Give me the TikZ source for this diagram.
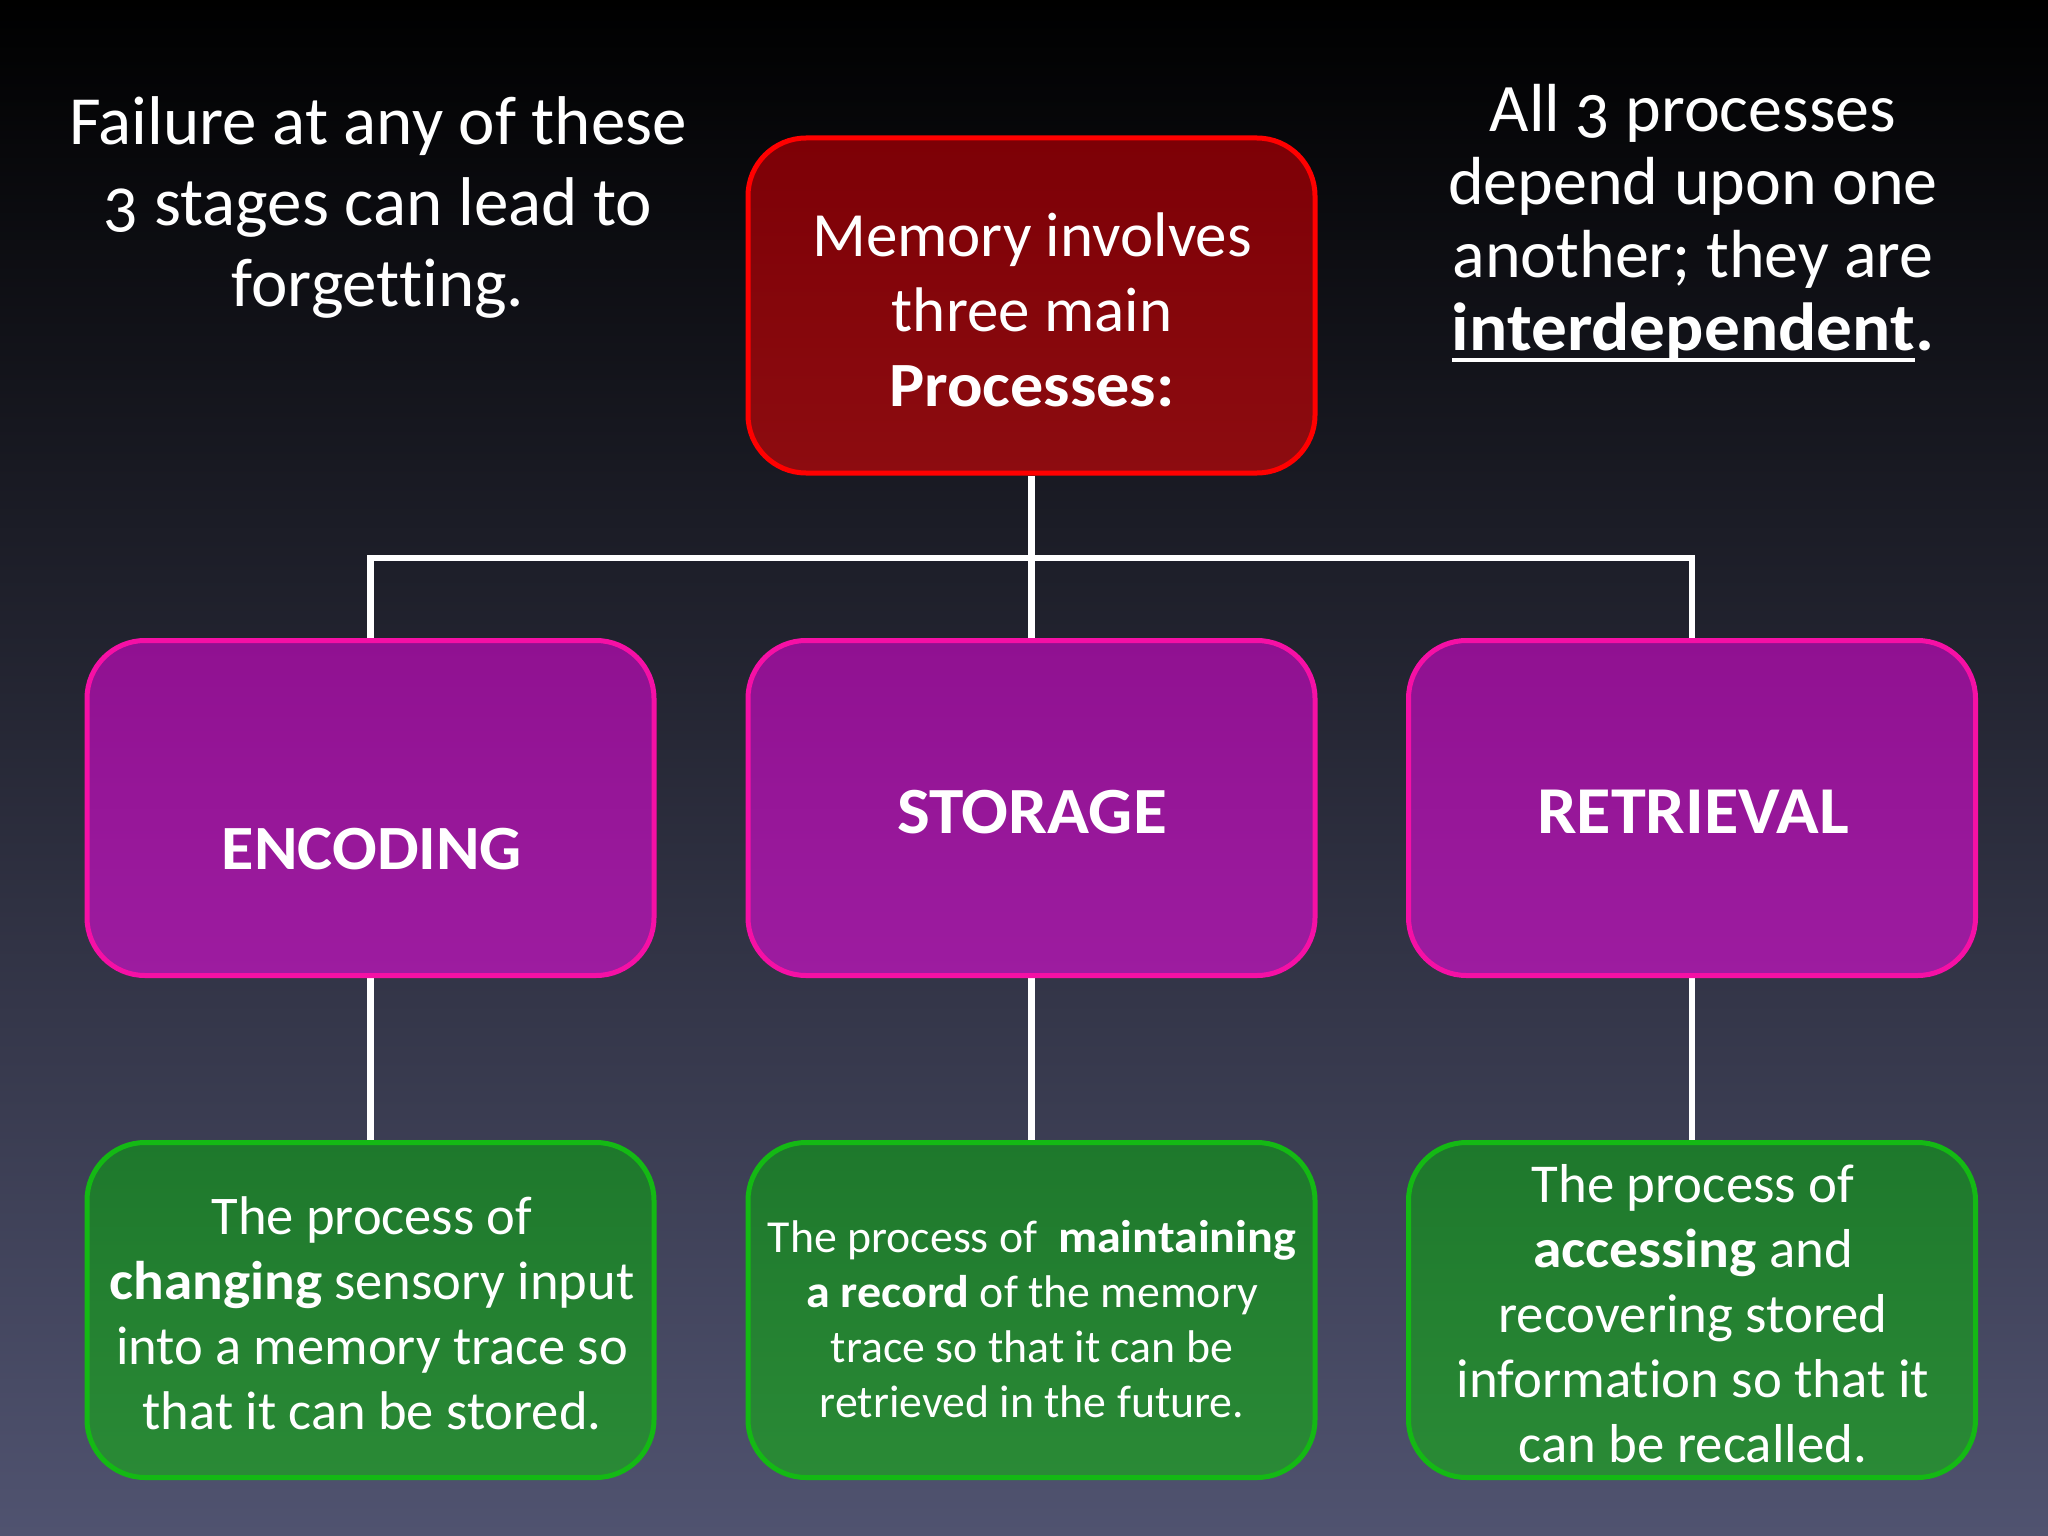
\documentclass[tikz,border=0pt]{standalone}
\usepackage{fontspec}
\setmainfont{Carlito}[Numbers=OldStyle, RawFeature={-liga;-clig;-calt;-dlig}, BoldFeatures={FakeStretch=1.05}]
\usetikzlibrary{backgrounds}
\definecolor{bgbot}{RGB}{80,83,112}
\definecolor{redtop}{RGB}{125,0,6}
\definecolor{redbot}{RGB}{141,12,16}
\definecolor{redline}{RGB}{255,0,0}
\definecolor{purtop}{RGB}{144,17,145}
\definecolor{purbot}{RGB}{157,28,160}
\definecolor{purline}{RGB}{245,16,165}
\definecolor{grntop}{RGB}{30,120,44}
\definecolor{grnbot}{RGB}{42,138,54}
\definecolor{grnline}{RGB}{20,185,20}
\newcommand\myuline[1]{\setbox0\hbox{#1}\rlap{\vrule width\wd0 height -7pt depth 11pt}\box0}
\tikzset{
  boxbase/.style={line width=5pt, rounded corners=58pt, minimum width=567pt, minimum height=335pt, inner sep=0pt},
  redbox/.style={boxbase, draw=redline, top color=redtop, bottom color=redbot},
  purbox/.style={boxbase, draw=purline, top color=purtop, bottom color=purbot},
  grnbox/.style={boxbase, draw=grnline, top color=grntop, bottom color=grnbot},
  txt/.style={text=white, align=center, inner sep=0pt},
  conn/.style={draw=white, line width=6.5pt}
}
\begin{document}
\begin{tikzpicture}[x=1pt,y=-1pt]
\useasboundingbox (0,0) rectangle (2048,1536);
% boxes
\node[redbox] (mem) at (1031.5,305.5) {};
\node[purbox] (enc) at (370.5,808) {};
\node[purbox] (sto) at (1031.5,808) {};
\node[purbox] (ret) at (1692,808) {};
\node[grnbox] (encd) at (370.5,1310) {};
\node[grnbox] (stod) at (1031.5,1310) {};
\node[grnbox] (retd) at (1692,1310) {};
\coordinate (j) at (1031.5,558);
\begin{scope}[on background layer]
\shade[top color=black, bottom color=bgbot] (0,0) rectangle (2048,1536);
\draw[conn] (mem.south) -- (sto.north);
\draw[conn] (enc.north) |- (j) -| (ret.north);
\draw[conn] (enc.south) -- (encd.north);
\draw[conn] (sto.south) -- (stod.north);
\draw[conn] (ret.south) -- (retd.north);
\end{scope}
% texts
\node[txt, font=\fontsize{69}{81}\selectfont] (fail) at (378,207) {Failure at any of these\\3 stages can lead to\\forgetting.};
\node[txt, font=\fontsize{68}{73}\selectfont] (all) at (1693,223) {All 3 processes\\depend upon one\\another; they are\\\myuline{\textbf{interdependent}}\textbf{.}};
\node[txt, font=\fontsize{63}{75}\selectfont] (memt) at (1032,310) {Memory involves\\three main\\\textbf{Processes:}};
\node[txt, font=\bfseries\fontsize{63}{80}\selectfont] (enct) at (372,849) {ENCODING};
\node[txt, font=\bfseries\fontsize{66}{80}\selectfont] (stot) at (1032,812) {STORAGE};
\node[txt, font=\bfseries\fontsize{67}{80}\selectfont] (rett) at (1693,812) {RETRIEVAL};
\node[txt, font=\fontsize{54.5}{65}\selectfont] (encdt) at (372,1313.5) {The process of\\\textbf{changing} sensory input\\into a memory trace so\\that it can be stored.};
\node[txt, font=\fontsize{45.8}{55}\selectfont] (stodt) at (1032,1319) {The process of\ \ \textbf{maintaining}\\\textbf{a record} of the memory\\trace so that it can be\\retrieved in the future.};
\node[txt, font=\fontsize{54.8}{65}\selectfont] (retdt) at (1693,1313.5) {The process of\\\textbf{accessing} and\\recovering stored\\information so that it\\can be recalled.};
\end{tikzpicture}
\end{document}
